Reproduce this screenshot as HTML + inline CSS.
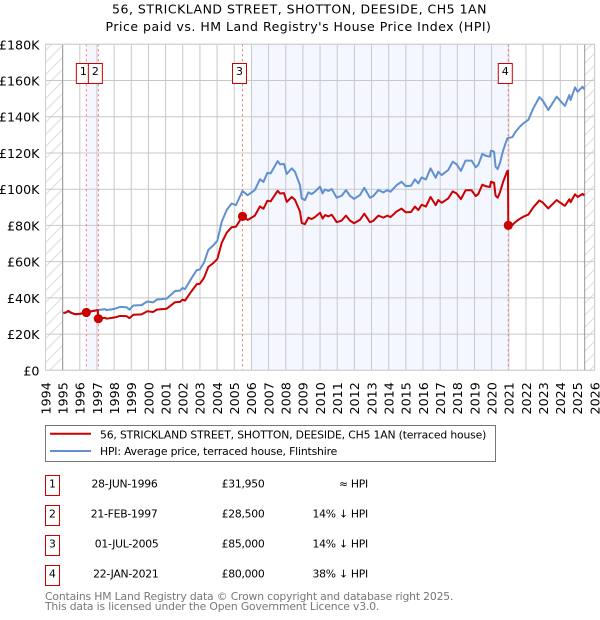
<!DOCTYPE html>
<html lang="en">
<head>
<meta charset="utf-8">
<title>56, Strickland Street, Shotton price chart</title>
<style>
html,body{margin:0;padding:0;background:#fff;width:600px;height:620px;overflow:hidden}
svg{display:block}
text{font-family:"DejaVu Sans","Liberation Sans",sans-serif;fill:#000}
.ttl{font-size:12.5px;letter-spacing:.5px}
.leg{font-size:10.8px;letter-spacing:-.16px}
.tbl{font-size:10.8px;letter-spacing:-.25px}
.foot{font-size:10.8px;letter-spacing:-.16px;fill:#777}
</style>
</head>
<body>
<svg id="chart" xmlns="http://www.w3.org/2000/svg" width="600" height="620" viewBox="0 0 600 620">
  <defs>
    <pattern id="hatch" patternUnits="userSpaceOnUse" width="12" height="12">
      <path d="M-3 15L15 -3M-3 3L3 -3M9 15L15 9" stroke="#dcdcdc" stroke-width="1" fill="none"/>
    </pattern>
  </defs>
  <text class="ttl" x="299.5" y="13.3" text-anchor="middle">56, STRICKLAND STREET, SHOTTON, DEESIDE, CH5 1AN</text>
  <text class="ttl" x="298.5" y="31" text-anchor="middle">Price paid vs. HM Land Registry's House Price Index (HPI)</text>
  <g id="plot"></g>

  <g>
    <rect x="45.5" y="425.5" width="450" height="36" fill="#fff" stroke="#777" stroke-width="1"/>
    <line x1="50" y1="433.7" x2="91" y2="433.7" stroke="#cc0000" stroke-width="2"/>
    <text class="leg" x="100" y="438.3">56, STRICKLAND STREET, SHOTTON, DEESIDE, CH5 1AN (terraced house)</text>
    <line x1="50" y1="451" x2="91" y2="451" stroke="#6090d0" stroke-width="2"/>
    <text class="leg" x="100" y="455">HPI: Average price, terraced house, Flintshire</text>
  </g>

  <g>
    <g>
      <rect x="45.5" y="475.5" width="14" height="20" fill="#fff" stroke="#cc0000"/>
      <text class="tbl" x="52.3" y="487.3" text-anchor="middle">1</text>
      <text class="tbl" x="157.5" y="487.3" text-anchor="end">28-JUN-1996</text>
      <text class="tbl" x="264.5" y="487.3" text-anchor="end">£31,950</text>
      <text class="tbl" x="368" y="487.3" text-anchor="end">≈ HPI</text>
    </g>
    <g>
      <rect x="45.5" y="505.5" width="14" height="20" fill="#fff" stroke="#cc0000"/>
      <text class="tbl" x="52.3" y="517.3" text-anchor="middle">2</text>
      <text class="tbl" x="157.5" y="517.3" text-anchor="end">21-FEB-1997</text>
      <text class="tbl" x="264.5" y="517.3" text-anchor="end">£28,500</text>
      <text class="tbl" x="368" y="517.3" text-anchor="end">14% ↓ HPI</text>
    </g>
    <g>
      <rect x="45.5" y="535.5" width="14" height="20" fill="#fff" stroke="#cc0000"/>
      <text class="tbl" x="52.3" y="547.3" text-anchor="middle">3</text>
      <text class="tbl" x="158.5" y="547.3" text-anchor="end">01-JUL-2005</text>
      <text class="tbl" x="264.5" y="547.3" text-anchor="end">£85,000</text>
      <text class="tbl" x="368" y="547.3" text-anchor="end">14% ↓ HPI</text>
    </g>
    <g>
      <rect x="45.5" y="565.5" width="14" height="20" fill="#fff" stroke="#cc0000"/>
      <text class="tbl" x="52.3" y="577.3" text-anchor="middle">4</text>
      <text class="tbl" x="158.5" y="577.3" text-anchor="end">22-JAN-2021</text>
      <text class="tbl" x="264.5" y="577.3" text-anchor="end">£80,000</text>
      <text class="tbl" x="368" y="577.3" text-anchor="end">38% ↓ HPI</text>
    </g>
  </g>

  <text class="foot" x="45" y="600">Contains HM Land Registry data © Crown copyright and database right 2025.</text>
  <text class="foot" x="45" y="610">This data is licensed under the Open Government Licence v3.0.</text>
</svg>

<script>
const xTickYears = [1994,1995,1996,1997,1998,1999,2000,2001,2002,2003,2004,2005,2006,2007,2008,2009,2010,2011,2012,2013,2014,2015,2016,2017,2018,2019,2020,2021,2022,2023,2024,2025,2026];
const yTickValues = [0,20,40,60,80,100,120,140,160,180];
const yTickLabels = ['£0','£20K','£40K','£60K','£80K','£100K','£120K','£140K','£160K','£180K'];

const seriesDates = [1995.04,1995.2,1995.33,1995.5,1995.72,1996,1996.2,1996.38,1996.7,1997.05,1997.08,1997.47,1997.56,1998.05,1998.34,1998.73,1998.89,1999.12,1999.6,1999.93,2000.28,2000.48,2001.06,2001.55,2001.84,2001.99,2002.13,2002.52,2002.81,2003,2003.24,2003.49,2003.78,2004.01,2004.27,2004.56,2004.85,2005.1,2005.48,2005.78,2006.2,2006.5,2006.7,2006.93,2007.12,2007.53,2007.67,2007.9,2008.06,2008.35,2008.54,2008.83,2008.93,2009.12,2009.32,2009.51,2009.7,2010,2010.15,2010.29,2010.48,2010.68,2010.97,2011.26,2011.51,2011.74,2011.98,2012.33,2012.58,2012.91,2013.1,2013.4,2013.69,2013.92,2014.11,2014.46,2014.75,2014.99,2015.3,2015.53,2015.73,2015.92,2016.17,2016.44,2016.74,2016.89,2017.09,2017.47,2017.73,2017.96,2018.21,2018.48,2018.83,2019.07,2019.22,2019.46,2019.67,2019.9,2019.96,2020.14,2020.23,2020.35,2020.48,2020.68,2020.91,2020.95,2020.97,2021.2,2021.4,2021.65,2021.85,2022.14,2022.43,2022.78,2022.97,2023.3,2023.79,2023.98,2024.27,2024.53,2024.6,2024.86,2025.01,2025.3,2025.4];

const hpiValues = [31.5,31.9,32.4,31.6,30.9,31,31.5,32,32.6,33.2,33.3,33.8,33.2,34,35,34.8,33.5,35.8,36,38,37.5,39,39.6,43.8,44,45.5,44.8,51,55.3,55.7,59.5,66.5,69,71.5,82,88.5,92.1,91.2,99,96.7,99.5,105.5,104,109,108.7,115.5,113.7,113.9,108.4,111.5,109.6,102.2,94.9,94,98.2,97.3,98.6,101.4,97.7,99.9,99,100.1,95.3,96.4,99.5,96.4,94.6,96.8,100.8,95.3,96.2,99.5,98.2,99.5,98.6,102.2,104.1,101.7,101.9,105.4,103.2,106.5,105.4,111.5,106.3,109.6,107.8,110.6,115.2,113.7,110.1,115.8,115.8,112.1,113.4,119.5,118.4,118,121.3,120.7,112.4,111.1,114.3,121.7,128.1,128.2,128.3,128.7,131.8,134.6,136.4,138.3,144.7,150.8,149,143.7,151.1,149,146,152,149.2,156.2,153.8,156.6,155.1];

const priceValues = [31.7,32,32.8,31.8,31,31.2,31.6,31.95,32.7,33.2,28.5,29,28.5,29.2,30,29.9,28.8,30.7,30.9,32.6,32.2,33.5,34,37.6,37.8,39,38.5,43.8,47.5,47.8,51.1,57.1,59.2,61.4,70.4,76,79,79.3,85,83,85.4,90.5,89.2,93.6,93.3,99.1,97.6,97.8,93,95.7,94.1,87.7,81.4,80.7,84.3,83.5,84.6,87,83.8,85.7,85,85.9,81.8,82.7,85.4,82.7,81.2,83.1,86.5,81.8,82.5,85.4,84.3,85.4,84.6,87.7,89.3,87.3,87.4,90.4,88.5,91.4,90.4,95.7,91.2,94,92.5,94.9,98.8,97.6,94.5,99.4,99.4,96.2,97.3,102.5,101.6,101.2,104.1,103.6,96.4,95.3,98.1,104.4,110,110.2,80,80.2,82,83.7,84.8,86,90,93.8,92.7,89.4,94,92.7,90.8,94.5,92.8,97.2,95.7,97.4,96.5];

const saleLabels = ['1','2','3','4'];
const saleDates = [1996.38,1997.08,2005.48,2020.97];
const salePrices = [31.95,28.5,85,80];
const bandStarts = [1996.38,2006];
const bandEnds = [1997,2020.97];
const hatchStarts = [1994,2025.42];
const hatchEnds = [1995,2026];

const NS = 'http://www.w3.org/2000/svg';
const plot = document.getElementById('plot');
const LEFT = 45.5, RIGHT = 594.6, TOP = 44.3, BOTTOM = 370.3;
function xScale(year){ return LEFT + (year - 1994) * (RIGHT - LEFT) / 32; }
function yScale(v){ return BOTTOM - v * (BOTTOM - TOP) / 180; }
function make(tag, attrs){
  const el = document.createElementNS(NS, tag);
  for (const k in attrs) el.setAttribute(k, attrs[k]);
  plot.appendChild(el);
  return el;
}

bandStarts.forEach(function(s, i){
  const el = make('rect', {x: xScale(s), y: TOP, width: xScale(bandEnds[i]) - xScale(s), height: BOTTOM - TOP, fill: '#f4f7ff'});
  
  
});

hatchStarts.forEach(function(s, i){
  const el = make('rect', {x: xScale(s), y: TOP, width: xScale(hatchEnds[i]) - xScale(s), height: BOTTOM - TOP, fill: 'url(#hatch)'});
  
  
});

yTickValues.forEach(function(v, i){
  const g = make('line', {x1: LEFT, x2: RIGHT, y1: yScale(v), y2: yScale(v), stroke: '#c8c8c8', 'stroke-width': 1});
  
  
  const t = make('text', {x: 39.5, y: yScale(v) + 5, 'text-anchor': 'end', 'font-size': 12.7});
  
  
  t.textContent = yTickLabels[i];
});

xTickYears.forEach(function(yr){
  const g = make('line', {x1: xScale(yr), x2: xScale(yr), y1: TOP, y2: BOTTOM, stroke: '#c8c8c8', 'stroke-width': 1});
  
  
  const lx = xScale(yr) + 4.8;
  const t = make('text', {x: lx, y: 414.5, transform: 'rotate(-90 ' + lx + ' 414.5)', 'font-size': 12.7});
  
  
  t.textContent = yr;
});

[1995, 2025.42].forEach(function(yr){
  const e = make('line', {x1: xScale(yr), x2: xScale(yr), y1: TOP, y2: BOTTOM, stroke: '#999', 'stroke-width': 1});
  
  
});

saleDates.forEach(function(d){
  const e = make('line', {x1: xScale(d), x2: xScale(d), y1: TOP, y2: BOTTOM, stroke: '#ff6b6b', 'stroke-width': 1, 'stroke-dasharray': '2 3'});
  
  
});

function linePath(values){
  return values.map(function(v, i){
    return (i ? 'L' : 'M') + xScale(seriesDates[i]).toFixed(2) + ' ' + yScale(v).toFixed(2);
  }).join('');
}

const hpiLine = make('path', {d: linePath(hpiValues), fill: 'none', stroke: '#6090d0', 'stroke-width': 2, 'stroke-linejoin': 'round'});



const priceLine = make('path', {d: linePath(priceValues), fill: 'none', stroke: '#cc0000', 'stroke-width': 2, 'stroke-linejoin': 'round'});



saleDates.forEach(function(d, i){
  const m = make('circle', {cx: xScale(d), cy: yScale(salePrices[i]), r: 4.6, fill: '#cc0000'});
  
  
  const bx = xScale(d) - 10;
  const b = make('rect', {x: bx, y: 63.5, width: 14, height: 20, fill: '#fff', stroke: '#cc0000', 'stroke-width': 1});
  
  
  const t = make('text', {x: bx + 7, y: 75, 'text-anchor': 'middle', 'font-size': 11});
  
  
  t.textContent = saleLabels[i];
});

const frame = make('rect', {x: LEFT, y: TOP, width: RIGHT - LEFT, height: BOTTOM - TOP, fill: 'none', stroke: '#d0d0d0', 'stroke-width': 1});


</script>
</body>
</html>
